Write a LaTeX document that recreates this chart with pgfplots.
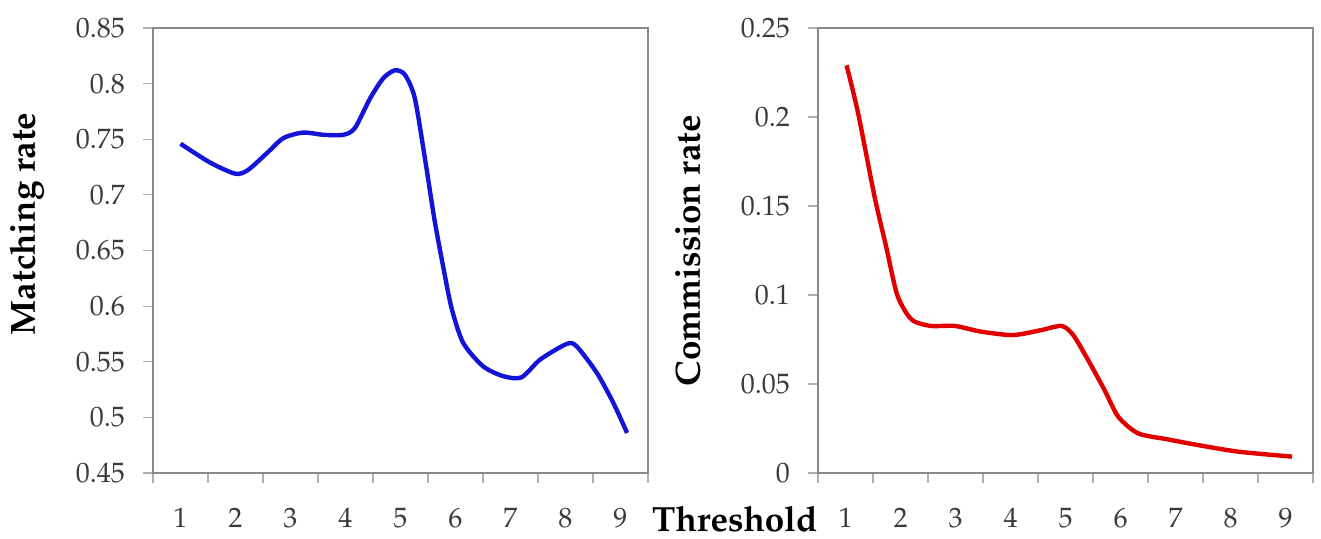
\documentclass[border=0pt]{standalone}
\usepackage[T1]{fontenc}
\usepackage{mathpazo}
\usepackage{xcolor}
\usepackage{pgfplots}
\pgfplotsset{compat=1.18}
\definecolor{frameGray}{HTML}{8A8A8A}
\definecolor{tickGray}{HTML}{B0B0B0}
\definecolor{labelGray}{HTML}{3A3A3A}
\definecolor{lineBlue}{HTML}{1414D8}
\definecolor{lineRed}{HTML}{E00000}
\newcommand{\axlabfont}{\fontsize{17.5}{20}\selectfont\bfseries}
\pgfplotsset{
  panel/.style={
    scale only axis,
    width=247.5pt,
    height=222.5pt,
    xmin=0.5, xmax=9.5,
    axis line style={draw=frameGray,line width=0.9pt},
    tick align=outside,
    xtick={1,...,9},
    minor xtick={0.5,1.5,...,9.5},
    major x tick style={draw=none},
    minor tick length=5pt,
    major tick length=5pt,
    every tick/.style={draw=tickGray,line width=0.6pt},
    xtick pos=bottom,
    ytick pos=left,
    tick label style={font=\fontsize{14}{16}\selectfont,text=labelGray},
    xticklabel style={anchor=base,yshift=-22pt},
    yticklabel style={anchor=east,xshift=-5.5pt},
  }
}
\begin{document}
\begin{tikzpicture}
\path[use as bounding box] (-76.5pt,-32.5pt) rectangle (584pt,236.5pt);
\begin{axis}[panel,
  ymin=0.45, ymax=0.85,
  ytick={0.45,0.5,...,0.85},
  yticklabels={0.45,0.5,0.55,0.6,0.65,0.7,0.75,0.8,0.85},
  ylabel={\axlabfont Matching rate},
  ylabel style={at={(axis description cs:-0.255,0.56)},anchor=center},
]
\addplot[lineBlue,line width=2.2pt,smooth,tension=0.45] coordinates {
(1,0.746)(1.54,0.729)(2.0,0.719)(2.23,0.7225)(2.57,0.7375)(2.87,0.751)
(3.23,0.756)(3.6,0.754)(3.96,0.754)(4.17,0.760)(4.45,0.787)(4.69,0.805)
(4.9,0.812)(5.08,0.808)(5.26,0.787)(5.45,0.731)(5.61,0.680)(5.77,0.637)
(5.93,0.598)(6.14,0.567)(6.5,0.546)(6.87,0.537)(7.2,0.536)(7.54,0.552)
(8.02,0.566)(8.2,0.564)(8.57,0.54)(8.87,0.513)(9.12,0.486)
};
\end{axis}
\begin{axis}[panel, xshift=332.5pt,
  ymin=0, ymax=0.25,
  ytick={0,0.05,...,0.25},
  yticklabels={0,0.05,0.1,0.15,0.2,0.25},
  ylabel={\axlabfont Commission rate},
  ylabel style={at={(axis description cs:-0.263,0.5)},anchor=center},
  xlabel={\axlabfont Threshold},
  xlabel style={at={(axis description cs:-0.168,0)},anchor=base,yshift=-29pt},
]
\addplot[lineRed,line width=2.2pt,smooth,tension=0.45] coordinates {
(1.02,0.229)(1.23,0.202)(1.53,0.155)(1.74,0.127)(1.93,0.101)(2.11,0.0897)
(2.26,0.085)(2.56,0.0826)(2.99,0.0826)(3.47,0.0794)(4.05,0.0775)(4.56,0.0803)
(4.93,0.0826)(5.14,0.0775)(5.41,0.0635)(5.71,0.0466)(5.96,0.0316)(6.32,0.0223)
(6.86,0.0189)(7.41,0.0157)(8.14,0.012)(9.12,0.0092)
};
\end{axis}
\end{tikzpicture}
\end{document}
